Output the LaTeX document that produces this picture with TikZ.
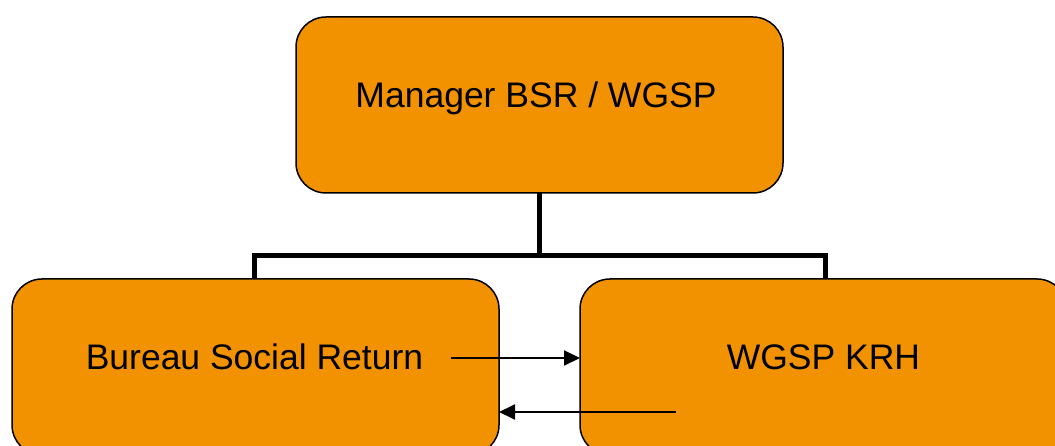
\documentclass[tikz,border=0pt]{standalone}
\usepackage{fontspec}
\setmainfont{Liberation Sans}
\usetikzlibrary{arrows.meta}
\definecolor{boxorange}{RGB}{242,146,0}
\begin{document}
\begin{tikzpicture}[x=1pt,y=-1pt,
  orgbox/.style={draw=black,line width=1.5pt,fill=boxorange,rounded corners=30pt,
    minimum width=487pt,minimum height=176pt,inner sep=0pt,outer sep=0pt},
  boxtext/.style={font=\fontsize{35.5}{40}\selectfont,inner sep=0pt,anchor=base},
  tree/.style={line width=5pt,line join=miter},
  flow/.style={line width=2pt,-{Triangle[length=16pt,width=15pt]}}]
\useasboundingbox (0,0) rectangle (1055,446);
\node[orgbox] (mgr) at (539.5,105) {};
\node[orgbox] (bsr) at (255.5,367) {};
\node[orgbox] (krh) at (823.5,367) {};
\node[boxtext] (mgrt) at (536,108) {Manager BSR / WGSP};
\node[boxtext] (bsrt) at (254.5,370) {Bureau Social Return};
\node[boxtext] (krht) at (823.5,370) {WGSP KRH};
\coordinate (bar) at (539.5,255.5);
\draw[tree] (mgr.south) -- (bar) -| ([xshift=-1.5pt]bsr.north);
\draw[tree] (bar) -| ([xshift=1.5pt]krh.north);
\coordinate (a1) at (451,358);
\coordinate (a2) at (676,412);
\draw[flow] (a1) -- (a1 -| krh.west);
\draw[flow] (a2) -- (a2 -| bsr.east);
\end{tikzpicture}
\end{document}
